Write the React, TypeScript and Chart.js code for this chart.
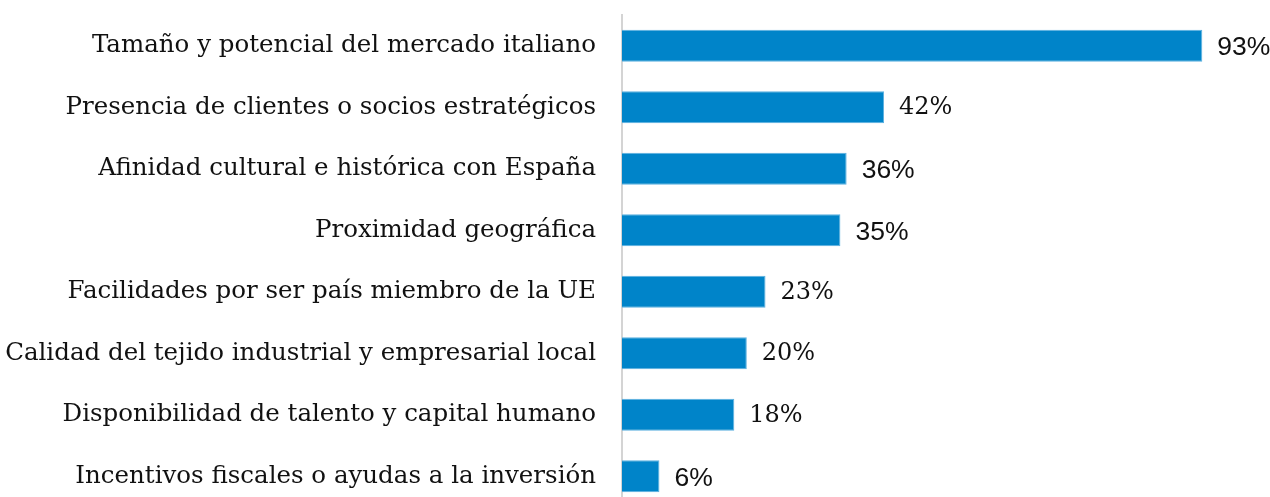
import React, { useEffect, useRef } from "react";
import { Chart, registerables } from "chart.js";

Chart.register(...registerables);

const categories = [
  "Tamaño y potencial del mercado italiano",
  "Presencia de clientes o socios estratégicos",
  "Afinidad cultural e histórica con España",
  "Proximidad geográfica",
  "Facilidades por ser país miembro de la UE",
  "Calidad del tejido industrial y empresarial local",
  "Disponibilidad de talento y capital humano",
  "Incentivos fiscales o ayudas a la inversión",
];

const values = [93, 42, 36, 35, 23, 20, 18, 6];

const SERIF = "'DejaVu Serif', serif";
const SANS = "'Liberation Sans', Arial, sans-serif";

// In the reference, some value labels are set in a sans face, others in serif.
const labelUsesSans = [true, false, true, true, false, false, false, true];

const valueLabelPlugin = {
  id: "valueLabels",
  afterDatasetsDraw(chart: any) {
    const ctx = chart.ctx;
    const meta = chart.getDatasetMeta(0);
    ctx.save();
    ctx.fillStyle = "#111111";
    ctx.textAlign = "left";
    ctx.textBaseline = "middle";
    meta.data.forEach((bar: any, i: number) => {
      ctx.font = labelUsesSans[i] ? `26.5px ${SANS}` : `24px ${SERIF}`;
      ctx.fillText(`${values[i]}%`, bar.x + 15, bar.y + (labelUsesSans[i] ? 2 : 1));
    });
    ctx.restore();
  },
};

export default function App() {
  const ref = useRef<HTMLCanvasElement | null>(null);
  useEffect(() => {
    document.body.style.margin = "0";
    const canvas = ref.current;
    if (!canvas) return;
    const chart = new Chart(canvas, {
      type: "bar",
      data: {
        labels: categories,
        datasets: [
          {
            data: values,
            backgroundColor: "#0084C9",
            borderColor: "#5BB0E0",
            borderWidth: 1,
            categoryPercentage: 1,
            barPercentage: 0.52,
          },
        ],
      },
      options: {
        indexAxis: "y",
        responsive: false,
        animation: false,
        layout: { padding: { top: 15, right: 24, bottom: 1, left: 0 } },
        plugins: {
          legend: { display: false },
          tooltip: { enabled: false },
        },
        scales: {
          x: { display: false, min: 0, max: 100 },
          y: {
            grid: { display: false, drawTicks: false },
            border: { display: true, color: "#D4D4D4", width: 2 },
            ticks: {
              padding: 26,
              color: "#111111",
              font: { family: SERIF, size: 24.5 },
            },
            afterFit(scale: any) {
              scale.width = 622;
              scale.paddingTop = 0;
              scale.paddingBottom = 0;
            },
          },
        },
      },
      plugins: [valueLabelPlugin],
    });
    return () => chart.destroy();
  }, []);
  return (
    <div style={{ width: 1270, height: 497, overflow: "hidden" }}>
      <canvas ref={ref} width={1270} height={508} style={{ display: "block" }} />
    </div>
  );
}
